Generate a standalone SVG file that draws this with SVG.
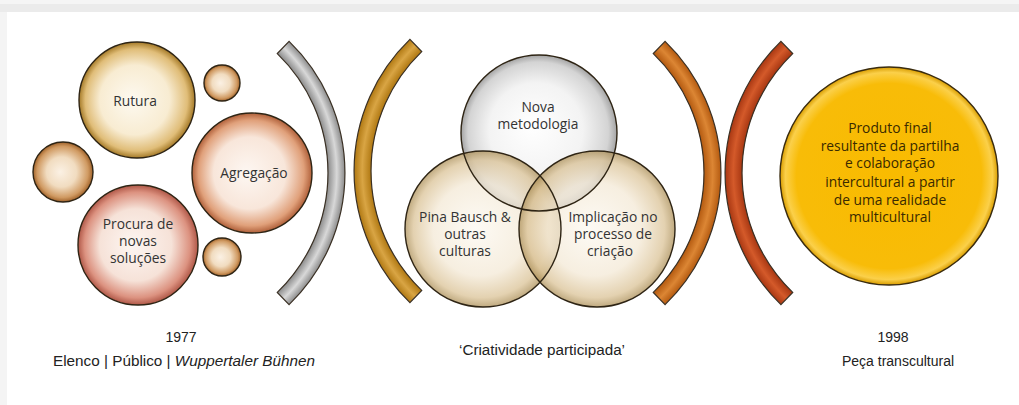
<svg xmlns="http://www.w3.org/2000/svg" width="1019" height="405" viewBox="0 0 1019 405">
<defs>
<style>
.lbl{font-family:"Open Sans","Noto Sans","DejaVu Sans",sans-serif;font-size:13.8px;fill:#333;text-anchor:middle}
.ylbl{font-family:"Open Sans","Noto Sans","DejaVu Sans",sans-serif;font-size:13.8px;fill:#3a2a00;text-anchor:middle}
.cap{font-family:"Liberation Sans","Arial",sans-serif;font-size:14px;fill:#222;text-anchor:middle}
.ring{stroke:#2e2414;stroke-width:1.4}
.brk{stroke:#3a3024;stroke-width:1.2}
</style>
<radialGradient id="gRut" cx="0.5" cy="0.5" r="0.5" fx="0.45" fy="0.5">
<stop offset="0" stop-color="#fdf9f0"/><stop offset="0.6" stop-color="#f8ecd2"/><stop offset="0.88" stop-color="#e0bd78"/><stop offset="1" stop-color="#a57a28"/>
</radialGradient>
<radialGradient id="gAgr" cx="0.5" cy="0.5" r="0.5" fx="0.45" fy="0.5">
<stop offset="0" stop-color="#fdf7f2"/><stop offset="0.6" stop-color="#f8e6da"/><stop offset="0.88" stop-color="#e0a07a"/><stop offset="1" stop-color="#b0603a"/>
</radialGradient>
<radialGradient id="gPro" cx="0.5" cy="0.5" r="0.5" fx="0.45" fy="0.5">
<stop offset="0" stop-color="#fdf6f2"/><stop offset="0.6" stop-color="#f6e2d8"/><stop offset="0.88" stop-color="#dc9280"/><stop offset="1" stop-color="#b05848"/>
</radialGradient>
<radialGradient id="gSm" cx="0.5" cy="0.5" r="0.5" fx="0.45" fy="0.5">
<stop offset="0" stop-color="#fbf1e4"/><stop offset="0.5" stop-color="#f1dcc0"/><stop offset="0.85" stop-color="#d09a62"/><stop offset="1" stop-color="#a0622a"/>
</radialGradient>
<radialGradient id="gTop" cx="0.5" cy="0.5" r="0.5" fx="0.45" fy="0.45">
<stop offset="0" stop-color="#ffffff"/><stop offset="0.6" stop-color="#f2f2f2"/><stop offset="0.9" stop-color="#cfcfcf"/><stop offset="1" stop-color="#9a9a9a"/>
</radialGradient>
<radialGradient id="gTan" cx="0.5" cy="0.5" r="0.5" fx="0.45" fy="0.5">
<stop offset="0" stop-color="#fcf8f0"/><stop offset="0.6" stop-color="#f3e8d4"/><stop offset="0.88" stop-color="#d9c092"/><stop offset="1" stop-color="#a88a50"/>
</radialGradient>
<radialGradient id="gYel" cx="0.5" cy="0.5" r="0.5" fx="0.5" fy="0.5">
<stop offset="0" stop-color="#f9bb00"/><stop offset="0.85" stop-color="#f8bc08"/><stop offset="0.95" stop-color="#fbd04a"/><stop offset="1" stop-color="#d89c00"/>
</radialGradient>
<radialGradient id="bGray" gradientUnits="userSpaceOnUse" cx="162" cy="173" r="183">
<stop offset="0.907" stop-color="#8c8c8c"/><stop offset="0.955" stop-color="#d8d8d8"/><stop offset="1" stop-color="#8c8c8c"/>
</radialGradient>
<radialGradient id="bGold" gradientUnits="userSpaceOnUse" cx="537" cy="171" r="183">
<stop offset="0.907" stop-color="#b07812"/><stop offset="0.955" stop-color="#d9a544"/><stop offset="1" stop-color="#b07812"/>
</radialGradient>
<radialGradient id="bOra" gradientUnits="userSpaceOnUse" cx="538" cy="173" r="183">
<stop offset="0.907" stop-color="#b45a10"/><stop offset="0.955" stop-color="#dc8634"/><stop offset="1" stop-color="#b45a10"/>
</radialGradient>
<radialGradient id="bRed" gradientUnits="userSpaceOnUse" cx="908" cy="173" r="183">
<stop offset="0.907" stop-color="#a83712"/><stop offset="0.955" stop-color="#d45a2a"/><stop offset="1" stop-color="#a83712"/>
</radialGradient>
</defs>
<rect x="0" y="0" width="1019" height="405" fill="#ffffff"/>
<rect x="0" y="0" width="1019" height="4" fill="#f5f5f5"/>
<rect x="0" y="4" width="1019" height="8" fill="#ebebeb"/>
<rect x="0" y="12" width="7" height="393" fill="#f4f4f4"/>

<g id="cluster-left">
<g id="node-rutura"><circle class="ring" cx="137" cy="100" r="58" fill="url(#gRut)"/><text class="lbl" x="135" y="106">Rutura</text></g>
<g id="node-small-1"><circle class="ring" cx="222" cy="83" r="18" fill="url(#gSm)"/></g>
<g id="node-small-2"><circle class="ring" cx="63" cy="172" r="30" fill="url(#gSm)"/></g>
<g id="node-agregacao"><circle class="ring" cx="252" cy="173" r="60" fill="url(#gAgr)"/><text class="lbl" x="254" y="178">Agregação</text></g>
<g id="node-procura"><circle class="ring" cx="138" cy="245" r="60" fill="url(#gPro)"/><text class="lbl" x="138" y="229">Procura de</text><text class="lbl" x="138" y="246">novas</text><text class="lbl" x="138" y="263">soluções</text></g>
<g id="node-small-3"><circle class="ring" cx="222" cy="257" r="19" fill="url(#gSm)"/></g>
</g>

<g id="connectors">
<path class="brk" fill="url(#bGray)" d="M289.1,41.4 A183,183 0 0 1 289.1,304.6 L277.3,292.4 A166,166 0 0 0 277.3,53.6 Z"/>
<path class="brk" fill="url(#bGold)" d="M409.9,39.4 A183,183 0 0 0 409.9,302.6 L421.7,290.4 A166,166 0 0 1 421.7,51.6 Z"/>
<path class="brk" fill="url(#bOra)" d="M665.1,41.4 A183,183 0 0 1 665.1,304.6 L653.3,292.4 A166,166 0 0 0 653.3,53.6 Z"/>
<path class="brk" fill="url(#bRed)" d="M780.9,41.4 A183,183 0 0 0 780.9,304.6 L792.7,292.4 A166,166 0 0 1 792.7,53.6 Z"/>
</g>

<g id="venn">
<g id="node-nova"><circle cx="539" cy="133" r="78" fill="url(#gTop)" fill-opacity="0.9"/></g>
<g id="node-pina"><circle cx="483" cy="229" r="78" fill="url(#gTan)" fill-opacity="0.72"/></g>
<g id="node-implicacao"><circle cx="597" cy="229" r="78" fill="url(#gTan)" fill-opacity="0.72"/></g>
<circle class="ring" cx="539" cy="133" r="78" fill="none"/>
<circle class="ring" cx="483" cy="229" r="78" fill="none"/>
<circle class="ring" cx="597" cy="229" r="78" fill="none"/>
<text class="lbl" x="538" y="112">Nova</text>
<text class="lbl" x="538" y="129">metodologia</text>
<text class="lbl" x="465" y="222">Pina Bausch &amp;</text>
<text class="lbl" x="465" y="239">outras</text>
<text class="lbl" x="465" y="256">culturas</text>
<text class="lbl" x="613" y="222">Implicação no</text>
<text class="lbl" x="613" y="239">processo de</text>
<text class="lbl" x="610" y="256">criação</text>
</g>

<g id="node-produto">
<circle cx="889" cy="176" r="109" fill="url(#gYel)" stroke="#3a2c10" stroke-width="1.4"/>
<text class="ylbl" x="890" y="133">Produto final</text>
<text class="ylbl" x="890" y="151">resultante da partilha</text>
<text class="ylbl" x="890" y="168">e colaboração</text>
<text class="ylbl" x="890" y="187">intercultural a partir</text>
<text class="ylbl" x="890" y="205">de uma realidade</text>
<text class="ylbl" x="890" y="222">multicultural</text>
</g>

<g id="captions">
<text class="cap" x="181" y="342">1977</text>
<text class="cap" x="184" y="366" textLength="262" lengthAdjust="spacingAndGlyphs">Elenco | Público | <tspan font-style="italic">Wuppertaler Bühnen</tspan></text>
<text class="cap" x="542" y="355" textLength="166" lengthAdjust="spacingAndGlyphs">‘Criatividade participada’</text>
<text class="cap" x="893" y="342">1998</text>
<text class="cap" x="898" y="366">Peça transcultural</text>
</g>
</svg>
